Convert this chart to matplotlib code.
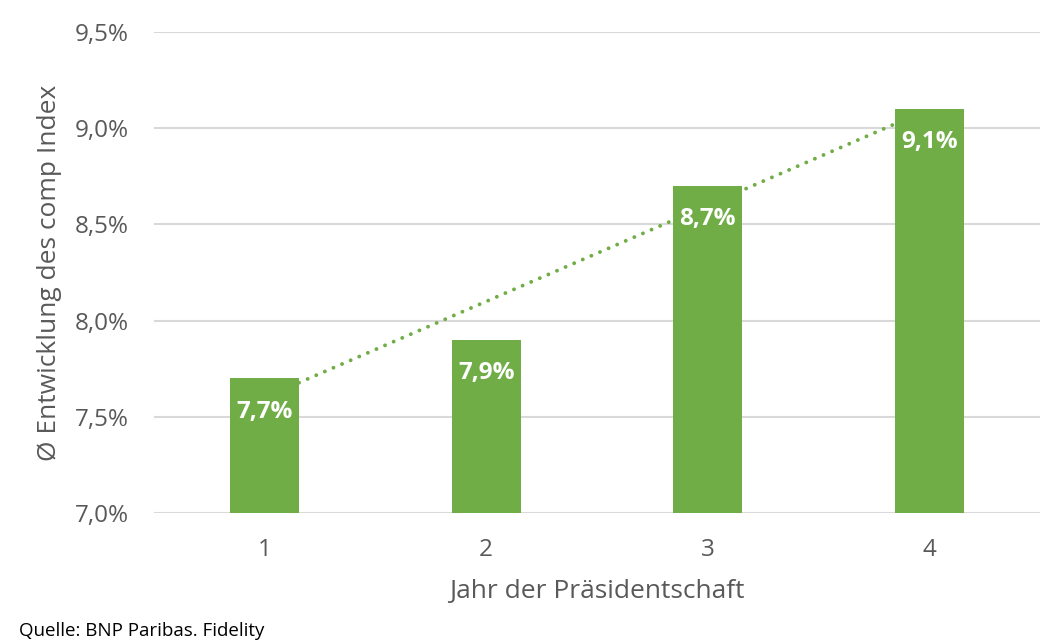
import numpy as np
import matplotlib.pyplot as plt
from matplotlib.ticker import FuncFormatter

plt.rcParams['font.family'] = ['Open Sans', 'DejaVu Sans']

years = [1, 2, 3, 4]
values = [7.7, 7.9, 8.7, 9.1]
bar_color = '#70ad47'
text_color = '#595959'
bar_width = 0.31

fig = plt.figure(figsize=(10.59, 6.43), dpi=100)
ax = fig.add_axes([0.1454, 0.2022, 0.8366, 0.7478])

ax.bar(years, values, width=bar_width, bottom=0, color=bar_color, zorder=3)

# linear trendline (Excel style), visible between the outer bars
slope, intercept = np.polyfit(years, values, 1)
tx = np.array([years[0] + bar_width / 2, years[-1] - bar_width / 2])
ax.plot(tx, slope * tx + intercept, linestyle=(0, (0.01, 2.4)), color=bar_color,
        linewidth=2.8, zorder=2, dash_capstyle='round')

for x, v in zip(years, values):
    ax.annotate(f'{v:.1f}%'.replace('.', ','), (x, v), xytext=(0, -24),
                textcoords='offset points', ha='center', va='center',
                color='white', fontsize=17.5, fontweight='bold', zorder=4)

ax.set_xlim(0.5, 4.5)
ax.set_ylim(7.0, 9.5)
ax.set_yticks(np.arange(7.0, 9.51, 0.5))
ax.yaxis.set_major_formatter(FuncFormatter(lambda v, p: f'{v:.1f}%'.replace('.', ',')))
ax.set_xticks(years)
ax.set_xticklabels([str(y) for y in years])
ax.tick_params(length=0, labelsize=17.5, labelcolor=text_color)
ax.tick_params(axis='y', pad=18)
ax.tick_params(axis='x', pad=18)
ax.grid(axis='y', color='#d9d9d9', linewidth=1.5, zorder=0)
ax.set_axisbelow(True)
for s in ax.spines.values():
    s.set_visible(False)

ax.set_xlabel('Jahr der Präsidentschaft', fontsize=19, color=text_color, labelpad=12)
ax.set_ylabel('Ø Entwicklung des comp Index', fontsize=19, color=text_color, labelpad=9)

fig.text(0.018, 0.004, 'Quelle: BNP Paribas. Fidelity', fontsize=13.5, color='black',
         ha='left', va='bottom')

fig.savefig('out.png', dpi=100)
